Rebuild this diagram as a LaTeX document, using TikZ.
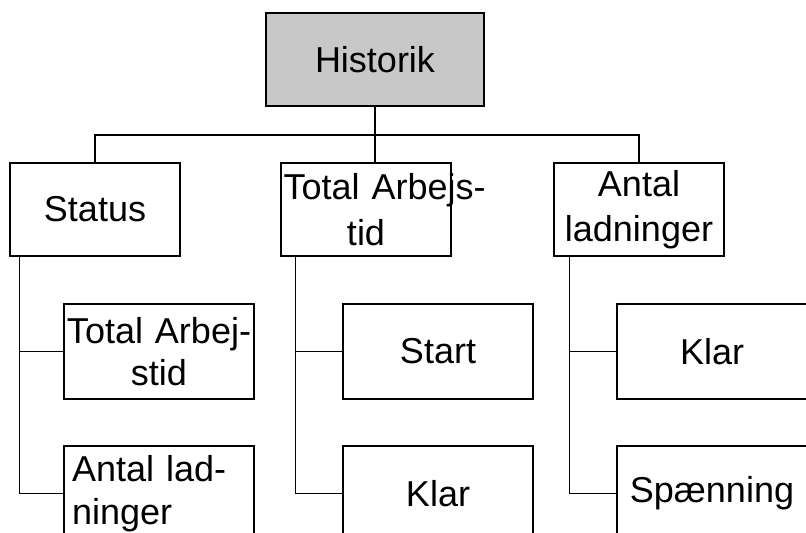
\documentclass[tikz,border=0pt]{standalone}
\usepackage{fontspec}
\setmainfont{Liberation Sans}
\usetikzlibrary{positioning, calc}
\definecolor{histbg}{RGB}{200,200,200}
\tikzset{
  topbox/.style={rectangle, draw=black, fill=histbg, line width=0.9pt,
    minimum width=163.5pt, minimum height=69.75pt, font=\fontsize{27}{34}\selectfont},
  lvlone/.style={rectangle, draw=black, fill=white, line width=0.9pt, inner xsep=2pt,
    text width=123.5pt, minimum height=69.75pt, align=center, font=\fontsize{27}{34}\selectfont},
  lvltwo/.style={rectangle, draw=black, fill=white, line width=0.9pt, inner xsep=2pt,
    text width=138.5pt, minimum height=71.25pt, align=center, font=\fontsize{27}{32}\selectfont},
  conn/.style={line width=0.9pt, color=black},
}
\begin{document}
\begin{tikzpicture}[x=0.75pt, y=-0.75pt]
\useasboundingbox (0,0) rectangle (806,532);
\clip (0,0) rectangle (806,532);
\node[topbox] (hist) at (375,59.5) {Historik};
% first level
\node[lvlone] (stat) at (95,209.5) {Status};
\node[lvlone] (arb) at (366,209.5) {\mbox{Total Arbejs-}\\tid};
\node[lvlone] (lad) at (639,209.5) {Antal\\ladninger};
% second level
\node[lvltwo] (s1) at (159,351.5) {Total Arbej-\\stid};
\node[lvltwo, align=left, inner xsep=6pt, text width=130.5pt] (s2) at (159,493.5) {Antal lad-\\ninger};
\node[lvltwo] (a1) at (438,351.5) {Start};
\node[lvltwo] (a2) at (438,493.5) {Klar};
\node[lvltwo] (l1) at (712,351.5) {Klar};
\node[lvltwo] (l2) at (712,493.5) {Spænning};
% connectors
\coordinate (bar) at (375,135);
\draw[conn] (stat.north) |- (bar) -| (lad.north);
\draw[conn] (hist.south) -- (hist.south |- arb.north);
\coordinate (sp1) at ($(stat.south west)+(10,0)$);
\coordinate (sp2) at ($(arb.south west)+(15,0)$);
\coordinate (sp3) at ($(lad.south west)+(16,0)$);
\draw[conn] (sp1) |- (s2.west);
\draw[conn] (sp1 |- s1.west) -- (s1.west);
\draw[conn] (sp2) |- (a2.west);
\draw[conn] (sp2 |- a1.west) -- (a1.west);
\draw[conn] (sp3) |- (l2.west);
\draw[conn] (sp3 |- l1.west) -- (l1.west);
\end{tikzpicture}
\end{document}
